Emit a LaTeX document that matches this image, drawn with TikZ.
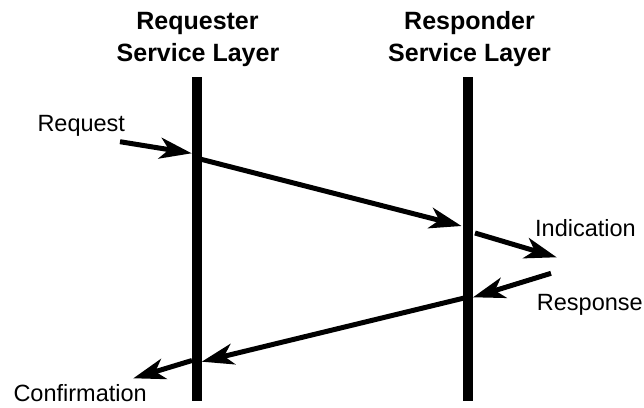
\documentclass[tikz,border=0pt]{standalone}
\usepackage{fontspec}
\setmainfont{Liberation Sans}
\usetikzlibrary{arrows.meta}
\begin{document}
\begin{tikzpicture}[x=1pt,y=-1pt,
 bar/.style={line width=10pt},
 seg/.style={line width=5pt},
 msg/.style={seg,-{Stealth[length=32pt,width=21pt,inset=9pt]}},
 lbl/.style={font=\fontsize{23.5}{27}\selectfont, inner sep=0pt, anchor=base west},
 hdr/.style={font=\fontsize{25}{28}\selectfont\bfseries, inner sep=0pt, anchor=base}]
\useasboundingbox (0,0) rectangle (644,407);
% headers
\node[hdr] (h1a) at (197.5,29.5) {Requester};
\node[hdr] (h1b) at (198,61) {Service Layer};
\node[hdr] (h2a) at (469.5,29.5) {Responder};
\node[hdr] (h2b) at (469.5,61) {Service Layer};
% lifelines
\coordinate (L1) at (196.7,77);
\coordinate (L2) at (196.7,401);
\coordinate (R1) at (467.5,77);
\coordinate (R2) at (467.5,401);
\draw[bar] (L1) -- (L2);
\draw[bar] (R1) -- (R2);
% message points
\coordinate (a0) at (120,141.7);
\coordinate (a1) at (191.7,153.3);
\coordinate (b0) at (200,159);
\coordinate (b1) at (461.5,226);
\coordinate (c0) at (475,233);
\coordinate (c1) at (556.7,257.3);
\coordinate (d0) at (551,273.3);
\coordinate (d1) at (473,297.3);
\coordinate (e0) at (465,297.8);
\coordinate (e1) at (201.7,361.7);
\coordinate (f0) at (192,360.5);
\coordinate (f1) at (133.3,378.3);
\draw[msg] (a0) -- (a1);
\draw[msg] (b0) -- (b1);
\draw[msg] (c0) -- (c1);
\draw[msg] (d0) -- (d1);
\draw[msg] (e0) -- (e1);
\draw[msg] (f0) -- (f1);
% labels
\node[lbl] (req) at (37.3,131.7) {Request};
\node[lbl] (ind) at (535,236) {Indication};
\node[lbl] (rsp) at (536.7,310) {Response};
\node[lbl] (cnf) at (13.3,401.7) {Confirmation};
\end{tikzpicture}
\end{document}
